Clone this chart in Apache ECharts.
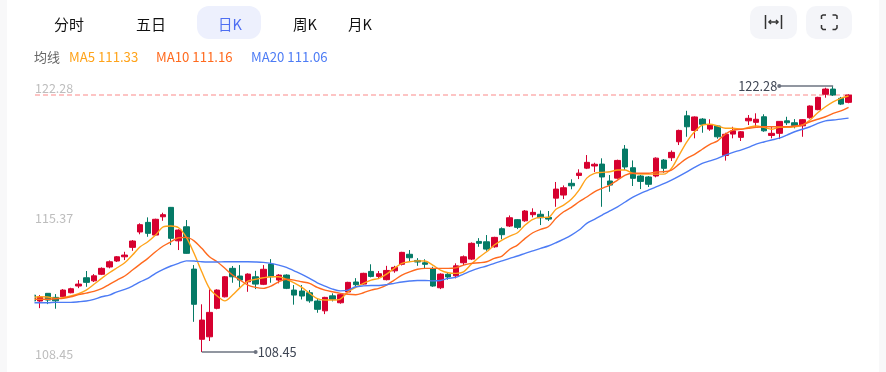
<!DOCTYPE html>
<html>
<head>
<meta charset="utf-8">
<style>html,body{margin:0;padding:0;background:#fff}#c{width:886px;height:372px}</style>
<script src="https://cdn.jsdelivr.net/npm/echarts@6/dist/echarts.min.js"></script>
</head>
<body>
<div id="c"></div>
<script>
// [open, close, low, high]
const candles = [
[111.41,111.10,111.05,111.46],
[111.10,111.32,110.73,111.41],[111.50,111.15,110.94,111.51],[111.29,111.11,110.70,111.46],[111.32,111.67,111.29,111.72],[111.53,111.74,111.50,111.79],
[111.88,111.98,111.77,112.19],[112.31,112.07,111.84,112.66],[112.15,112.41,112.09,112.50],[112.49,112.80,112.45,112.85],[112.87,113.14,112.80,113.21],
[113.18,113.40,113.13,113.44],[113.40,113.49,113.23,113.66],[113.89,114.22,113.71,114.27],[114.69,115.07,114.57,115.14],[115.19,114.62,114.44,115.45],
[114.53,115.35,114.49,115.38],[115.48,115.59,115.27,115.69],[115.97,114.36,114.01,115.99],[114.23,114.79,113.75,114.83],[114.96,113.58,113.56,115.31],
[112.76,110.93,110.02,112.97],[109.11,110.11,108.45,110.93],[109.24,110.51,109.02,111.71],[110.72,111.67,110.67,111.71],[111.32,112.36,111.29,112.40],
[112.80,112.36,112.05,112.92],[112.40,112.19,111.81,112.97],[112.10,112.50,111.58,112.54],[112.36,111.98,111.72,112.67],[111.97,112.75,111.93,112.97],
[113.02,112.36,112.05,113.28],[112.19,112.45,112.02,112.50],[112.45,111.76,111.72,112.49],[111.67,111.41,110.91,111.93],[111.62,111.36,111.18,111.93],
[111.53,111.11,111.01,111.67],[111.10,110.67,110.49,111.24],[110.59,111.29,110.42,111.32],[111.37,111.19,111.08,111.50],[111.01,111.43,110.96,111.50],
[111.57,112.07,111.50,112.10],[112.09,111.95,111.81,112.29],[111.98,112.54,111.95,112.57],[112.64,112.38,112.33,113.01],[112.38,112.52,112.24,112.66],
[112.21,112.69,112.17,112.93],[112.67,112.85,112.57,112.93],[113.01,113.63,112.95,113.66],[113.53,113.35,113.13,113.75],[113.21,113.13,112.93,113.33],
[113.09,113.01,112.80,113.27],[112.78,111.88,111.84,112.88],[111.79,112.50,111.72,112.54],[112.49,112.35,112.21,112.59],[112.41,112.93,112.28,113.06],
[113.09,113.40,112.97,113.47],[113.28,114.10,113.23,114.15],[114.20,114.10,113.92,114.37],[114.18,113.80,113.71,114.53],[113.92,114.41,113.87,114.44],
[114.86,114.55,114.31,114.93],[115.00,115.43,114.95,115.55],[115.33,114.93,114.84,115.36],[115.27,115.78,115.22,115.83],[115.59,115.71,115.45,115.92],
[115.61,115.43,115.05,115.81],[115.45,115.36,115.26,115.78],[116.45,116.92,116.00,117.29],[116.61,116.99,116.40,117.11],[117.22,117.09,116.91,117.43],
[117.63,117.75,117.44,117.95],[118.01,118.31,117.96,118.69],[118.12,118.21,117.81,118.29],[118.22,117.55,116.00,118.52],[117.34,117.13,116.78,117.65],
[117.49,118.41,117.46,118.45],[119.00,118.07,117.91,119.21],[118.03,117.48,117.08,118.41],[117.60,117.32,116.92,117.65],[117.55,117.17,117.03,117.60],
[117.60,118.53,117.53,118.57],[118.43,118.00,117.77,118.48],[118.55,118.83,118.38,118.93],[119.38,119.97,119.21,120.01],[120.73,120.16,119.64,120.99],
[119.97,120.67,119.56,120.70],[120.56,120.29,119.85,120.61],[120.04,120.27,119.95,120.55],[120.20,119.64,119.54,120.25],[118.67,119.77,118.40,119.85],
[119.78,119.95,119.56,120.16],[119.61,119.90,119.42,119.94],[120.47,120.60,120.25,120.77],[120.39,120.55,120.13,120.86],[120.68,119.95,119.90,120.81],
[119.71,119.82,119.56,120.16],[119.82,120.44,119.52,120.46],[120.47,120.37,120.25,120.68],[120.37,120.23,120.08,120.56],[120.21,120.53,119.64,120.56],
[120.63,121.24,120.58,121.27],[121.05,121.69,121.02,121.72],[121.85,122.12,121.67,122.19],[122.12,121.81,121.76,122.28],[121.64,121.34,121.29,121.71],
[121.43,121.81,121.38,121.85]
];
const ma5 = [111.29,111.32,111.31,111.24,111.27,111.36,111.48,111.67,111.97,112.28,112.57,112.83,113.09,113.49,113.92,114.18,114.53,114.95,115.00,114.91,114.41,
113.58,112.62,111.76,111.36,111.11,111.41,111.81,112.14,112.23,112.31,112.36,112.36,112.23,112.05,111.81,111.50,111.22,111.15,111.15,111.20,
111.58,111.81,112.02,112.19,112.28,112.50,112.80,113.06,113.14,113.19,113.18,112.97,112.71,112.57,112.54,112.62,113.01,113.37,113.66,114.01,
114.27,114.48,114.65,115.05,115.35,115.45,115.45,115.87,116.09,116.39,116.87,117.49,117.74,117.79,117.82,117.91,117.91,117.74,117.70,117.70,
117.70,117.70,118.00,118.69,119.38,119.90,120.25,120.29,120.20,120.08,120.08,120.03,120.13,120.20,120.13,120.03,120.13,120.13,120.16,120.25,
120.51,120.89,121.20,121.46,121.64,121.76];
const ma10 = [111.19,111.19,111.19,111.22,111.24,111.32,111.43,111.51,111.60,111.74,111.97,112.19,112.40,112.71,113.02,113.32,113.66,113.96,114.18,114.39,114.41,
114.23,113.84,113.40,113.14,112.80,112.45,112.19,111.93,111.81,111.76,111.88,112.10,112.23,112.19,112.10,112.02,111.81,111.67,111.58,111.50,
111.45,111.43,111.53,111.67,111.76,111.93,112.19,112.45,112.62,112.75,112.80,112.80,112.80,112.80,112.83,112.97,113.06,113.09,113.14,113.32,
113.44,113.79,114.01,114.36,114.65,114.83,114.96,115.40,115.74,115.97,116.26,116.51,116.78,116.96,117.13,117.39,117.65,117.74,117.74,117.74,
117.81,117.82,117.91,118.22,118.52,118.73,118.99,119.25,119.43,119.78,119.99,120.03,120.08,120.13,120.16,120.16,120.16,120.16,120.20,120.25,
120.42,120.55,120.68,120.86,120.99,121.17];
const ma20 = [111.01,111.01,111.01,111.03,111.03,111.03,111.06,111.10,111.19,111.32,111.41,111.58,111.71,111.88,112.10,112.28,112.54,112.75,112.92,113.06,113.19,
113.18,113.14,113.13,113.13,113.14,113.14,113.14,113.14,113.13,113.11,113.06,112.97,112.85,112.67,112.49,112.28,112.05,111.88,111.72,111.63,
111.67,111.84,111.89,111.91,111.91,111.95,112.02,112.09,112.14,112.17,112.17,112.15,112.17,112.28,112.33,112.50,112.67,112.81,112.92,113.06,
113.19,113.32,113.44,113.58,113.71,113.84,113.96,114.13,114.32,114.53,114.79,115.14,115.35,115.57,115.79,116.00,116.25,116.50,116.70,116.87,
117.04,117.20,117.39,117.60,117.82,118.05,118.26,118.39,118.52,118.69,118.83,118.95,119.09,119.26,119.37,119.47,119.57,119.73,119.90,120.03,
120.16,120.34,120.47,120.51,120.56,120.61];
const categories = candles.map((_, i) => String(i));
const yTicks = [108.45, 115.37, 122.28];
const tabs = ['分时', '五日', '日K', '周K', '月K'];
const maLabels = ['MA5 111.33', 'MA10 111.16', 'MA20 111.06'];
const highValue = 122.28, lowValue = 108.45, lastClose = 121.81;

const FONT = '"Noto Sans CJK SC","Noto Sans",sans-serif';
const C_UP = '#d6002f', C_DOWN = '#057a66', C5 = '#ffa31a', C10 = '#ff6a1e', C20 = '#4d7cf5';
const maLine = (name, data, color) => ({
  name, type: 'line', data, smooth: 0.3, showSymbol: false, silent: true,
  lineStyle: { width: 1.4, color }, itemStyle: { color }, z: 4
});
const txt = (x, y, text, fill, size, extra) => ({ type: 'text', x, y, z: 100,
  style: Object.assign({ text, fill, font: size + 'px ' + FONT, verticalAlign: 'middle', align: 'left' }, extra || {}) });
const rr = (x, y, w, h, r, fill) => ({ type: 'rect', z: 90, shape: { x, y, width: w, height: h, r }, style: { fill } });
const ln = pts => ({ type: 'polyline', z: 100, shape: { points: pts }, style: { stroke: '#333', lineWidth: 1.5, fill: null } });

const graphic = [
  rr(0, 0, 7, 372, 0, '#f8f8f9'), rr(879, 0, 7, 372, 0, '#f8f8f9'),
  rr(28, 280, 6.5, 40, 0, '#fff'),
  rr(197, 6, 64, 33, 12, '#edf0fd'),
  txt(54, 24, tabs[0], '#111', 15), txt(136, 24, tabs[1], '#111', 15),
  txt(218, 24, tabs[2], '#4e6ef2', 14.5), txt(293, 24, tabs[3], '#111', 14.5), txt(348, 24, tabs[4], '#111', 14.5),
  txt(34, 57, '均线', '#666', 13),
  txt(69, 57, maLabels[0], C5, 13.2), txt(156, 57, maLabels[1], C10, 13.2), txt(251, 57, maLabels[2], C20, 13.2),
  rr(750, 6, 47, 33, 10, '#f4f5f9'), rr(806, 6, 46, 33, 10, '#f4f5f9'),
  ln([[765.5, 15], [765.5, 29]]), ln([[781.5, 15], [781.5, 29]]),
  ln([[769, 22], [778, 22]]), ln([[771, 20], [769, 22], [771, 24]]), ln([[776, 20], [778, 22], [776, 24]]),
  ln([[821.5, 19], [821.5, 16], [823, 15], [826, 15]]), ln([[832.5, 15], [835.5, 15], [837, 16], [837, 19]]),
  ln([[821.5, 25], [821.5, 28], [823, 29.5], [826, 29.5]]), ln([[832.5, 29.5], [835.5, 29.5], [837, 28], [837, 25]])
];

const markerLabel = { show: true, position: 'end', color: '#3f4654', fontSize: 12.8, fontFamily: FONT, distance: 2, formatter: p => p.value.toFixed(2) };
const markerLine = { color: '#6d7380', width: 1.5, type: 'solid' };

const option = {
  animation: false,
  backgroundColor: '#fff',
  textStyle: { fontFamily: FONT },
  graphic,
  grid: { left: 28.5, top: 86, width: 823.9, height: 266, containLabel: false },
  xAxis: { type: 'category', data: categories, boundaryGap: true, show: false },
  yAxis: {
    type: 'value', min: lowValue, max: highValue, show: true,
    axisLine: { show: false }, axisTick: { show: false }, splitLine: { show: false },
    axisLabel: { inside: true, margin: 6.5, color: '#bdbdbd', fontSize: 12.5, fontFamily: FONT,
      customValues: yTicks, showMinLabel: true, showMaxLabel: true,
      formatter: v => (v === 115.37 ? '{m|' : '{e|') + v.toFixed(2) + '}',
      rich: { e: { padding: [4, 0, 0, 0], fontSize: 12.5, color: '#bdbdbd' }, m: { padding: [0, 0, 2, 0], fontSize: 12.5, color: '#bdbdbd' } } }
  },
  series: [
    { name: 'K', type: 'candlestick', data: candles, barWidth: 6, z: 3,
      itemStyle: { color: C_UP, color0: C_DOWN, borderColor: C_UP, borderColor0: C_DOWN, borderWidth: 1 },
      markLine: { silent: true, animation: false, symbol: ['none', 'circle'], symbolSize: 4, precision: 2,
        lineStyle: markerLine, itemStyle: { color: '#4a5160' }, label: markerLabel,
        data: [
          [{ xAxis: 104, yAxis: highValue, value: highValue }, { xAxis: 97, yAxis: highValue }],
          [{ xAxis: 22, yAxis: lowValue, value: lowValue }, { xAxis: 29, yAxis: lowValue }]
        ] } },
    maLine('MA5', ma5, C5), maLine('MA10', ma10, C10),
    Object.assign(maLine('MA20', ma20, C20), { markLine: { silent: true, animation: false, symbol: 'none', label: { show: false }, z: 1,
        lineStyle: { color: '#fdc4c4', width: 2, type: [5, 3] },
        data: [[{ coord: [1, lastClose], x: 35 }, { coord: [106, lastClose], x: 852 }]] } })
  ]
};
const chart = echarts.init(document.getElementById('c'));
chart.setOption(option);
</script>
</body>
</html>
